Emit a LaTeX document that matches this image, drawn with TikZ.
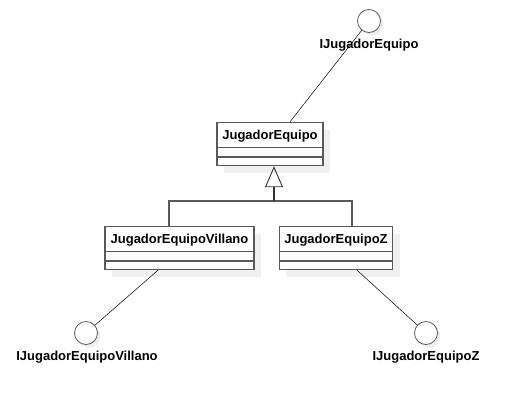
\documentclass[tikz,border=0pt]{standalone}
\usepackage{fontspec}
\setmainfont{Liberation Sans}
\usetikzlibrary{shadows,arrows.meta,calc}

\begin{document}
\begin{tikzpicture}[x=1pt,y=-1pt,
  umlclass/.style={rectangle,draw=black!65,line width=1.4pt,fill=white,
    font=\fontsize{13}{15}\selectfont\bfseries,inner xsep=5pt,inner ysep=4.5pt,
    text height=12.5pt,text depth=21.5pt,
    drop shadow={shadow xshift=7pt,shadow yshift=-7pt,fill=black!6,opacity=1},
    path picture={
      \draw[draw=black!65,line width=1.4pt]
        ([yshift=-25pt]path picture bounding box.north west) -- ([yshift=-25pt]path picture bounding box.north east)
        ([yshift=-34.5pt]path picture bounding box.north west) -- ([yshift=-34.5pt]path picture bounding box.north east);
    }},
  iface/.style={circle,draw=black!65,line width=0.8pt,fill=white,minimum size=23pt,inner sep=0pt,
    drop shadow={shadow xshift=3pt,shadow yshift=-3pt,fill=black!7,opacity=1}},
  ifacename/.style={font=\fontsize{13}{15}\selectfont\bfseries,inner sep=1pt},
  realize/.style={draw=black,line width=0.5pt},
  tree/.style={draw=black!65,line width=1.4pt},
  gen/.style={draw=black!80,line width=1.8pt,-{Triangle[open,length=21pt,width=18pt,line width=0.9pt]}}]
\useasboundingbox (0,0) rectangle (526,410);

% classes
\node[umlclass,minimum width=106pt] (je) at (270,144) {JugadorEquipo};
\node[umlclass,minimum width=149pt] (villano) at (179.5,248) {JugadorEquipoVillano};
\node[umlclass,minimum width=112pt] (zeta) at (336,248) {JugadorEquipoZ};

% interfaces
\node[iface] (ije) at (369,21) {};
\node[ifacename] (ijename) at (369,45) {IJugadorEquipo};
\node[iface] (ijv) at (86,333) {};
\node[ifacename] (ijvname) at (87,357) {IJugadorEquipoVillano};
\node[iface] (ijz) at (426,333) {};
\node[ifacename] (ijzname) at (426,357) {IJugadorEquipoZ};

% generalization
\coordinate (fork) at (274,201);
\coordinate (forkl) at (169,201);
\coordinate (forkr) at (352,201);
\draw[tree] (forkl |- villano.north) -- (forkl) -- (forkr) -- (forkr |- zeta.north);
\draw[gen] (fork) -- (fork |- je.south);

% realizations
\draw[realize] (ije) -- ($(je.north)+(20,0)$);
\draw[realize] (ijv) -- ($(villano.south)+(-21.5,0)$);
\draw[realize] (ijz) -- ($(zeta.south)+(21,0)$);
\end{tikzpicture}
\end{document}
